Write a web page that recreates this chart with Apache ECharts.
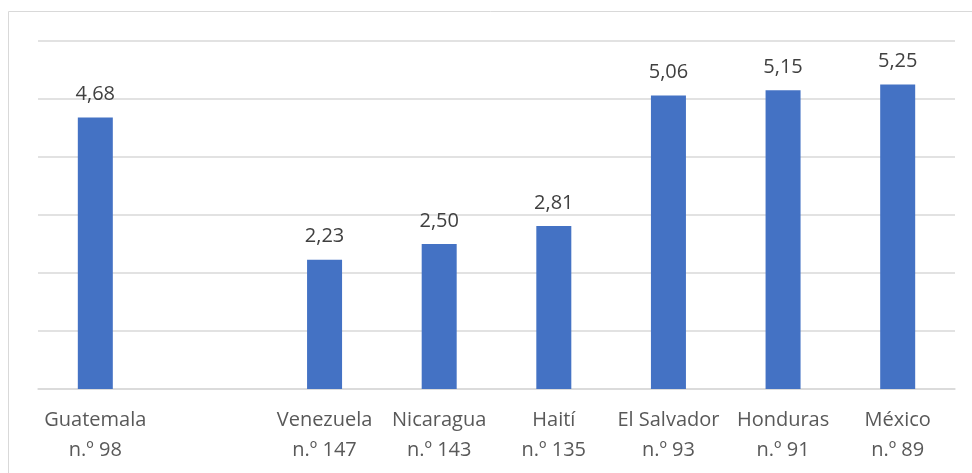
<!DOCTYPE html>
<html>
<head>
<meta charset="utf-8">
<script src="https://cdn.jsdelivr.net/npm/echarts@6/dist/echarts.min.js"></script>
<style>
html,body{margin:0;padding:0;background:#fff;}
#c{width:972px;height:473px;}
</style>
</head>
<body>
<div id="c"></div>
<script>
const countries = ['Guatemala', '', 'Venezuela', 'Nicaragua', 'Haití', 'El Salvador', 'Honduras', 'México'];
const ranks = ['n.º 98', '', 'n.º 147', 'n.º 143', 'n.º 135', 'n.º 93', 'n.º 91', 'n.º 89'];
const values = [4.68, null, 2.23, 2.50, 2.81, 5.06, 5.15, 5.25];

const categories = countries.map((c, i) => c ? c + '\n' + ranks[i] : '');
const FONT = '"Open Sans", "Noto Sans", sans-serif';

const chart = echarts.init(document.getElementById('c'));
chart.setOption({
  animation: false,
  graphic: [{
    type: 'rect',
    shape: { x: 8.5, y: 11.5, width: 1000, height: 500 },
    style: { fill: 'none', stroke: '#d9d9d9', lineWidth: 1 },
    silent: true
  }],
  grid: { left: 38, right: 17, top: 41, bottom: 84 },
  xAxis: {
    type: 'category',
    data: categories,
    axisLine: { lineStyle: { color: '#d9d9d9', width: 1.5 } },
    axisTick: { show: false },
    axisLabel: {
      interval: 0,
      color: '#595959',
      fontFamily: FONT,
      fontSize: 20,
      lineHeight: 30,
      margin: 16
    }
  },
  yAxis: {
    type: 'value',
    min: 0,
    max: 6,
    interval: 1,
    axisLabel: { show: false },
    axisLine: { show: false },
    axisTick: { show: false },
    splitLine: { lineStyle: { color: '#d9d9d9', width: 1.5 } }
  },
  series: [{
    type: 'bar',
    data: values,
    barWidth: 35,
    itemStyle: { color: '#4472c4' },
    label: {
      show: true,
      position: 'top',
      distance: 13,
      color: '#404040',
      fontFamily: FONT,
      fontSize: 20,
      formatter: p => p.value == null ? '' : p.value.toFixed(2).replace('.', ',')
    }
  }]
});
</script>
</body>
</html>
